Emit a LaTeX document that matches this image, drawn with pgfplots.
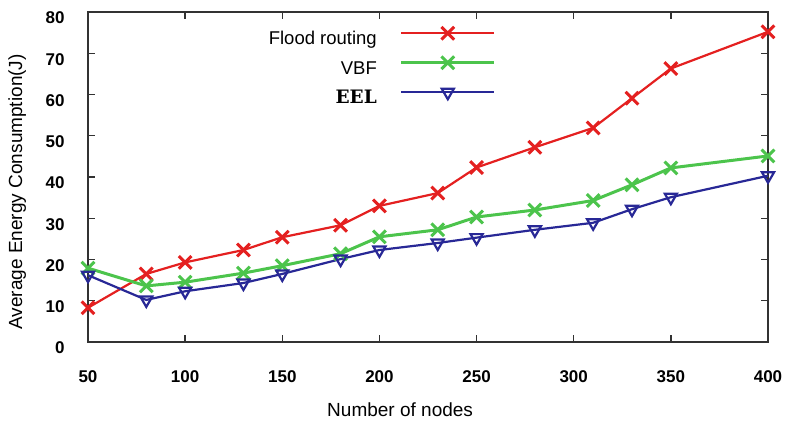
\documentclass[border=0pt]{standalone}
\usepackage{fontspec}
\setmainfont{Liberation Sans}
\newfontfamily\eelfont{DejaVu Serif}
\usepackage{pgfplots}
\pgfplotsset{compat=1.18}
\definecolor{cred}{RGB}{228,32,32}
\definecolor{cgreen}{RGB}{76,196,76}
\definecolor{cblue}{RGB}{40,40,150}
\definecolor{caxis}{RGB}{50,50,50}
\begin{document}
\begin{tikzpicture}
\useasboundingbox (-88pt,-80pt) rectangle (698pt,342pt);
\begin{axis}[
  scale only axis,
  width=680pt, height=330pt,
  xmin=50, xmax=400, ymin=0, ymax=80,
  xtick={50,100,...,400}, ytick={0,10,...,80},
  tick align=inside,
  major tick length=7pt,
  axis line style={caxis, line width=1.4pt},
  every tick/.style={caxis, line width=1.4pt},
  clip=false,
  /pgf/number format/assume math mode=true,
  tick label style={font=\fontsize{17}{20}\selectfont\bfseries},
  xticklabel style={yshift=-25pt},
  yticklabel style={xshift=-20pt, yshift=-6pt},
  xlabel={Number of nodes},
  ylabel={Average Energy Consumption(J)},
  label style={font=\fontsize{19}{22}\selectfont},
  xlabel style={at={(axis description cs:0.459,-0.206)}, anchor=center},
  ylabel style={at={(axis description cs:-0.104,0.455)}, anchor=center, rotate=0},
  legend cell align=right,
  legend plot pos=right,
  legend style={draw=none, fill=none, at={(axis description cs:0.6,0.965)}, anchor=north east,
    inner sep=0pt, row sep=10.5pt,
    nodes={inner sep=1pt, text height=13pt, text depth=4pt, font=\fontsize{18.5}{22}\selectfont},
    /tikz/every odd column/.append style={column sep=22pt}},
  legend image code/.code={
    \draw[mark repeat=2,mark phase=2,#1] plot coordinates {(0pt,0pt) (46.5pt,0pt) (93pt,0pt)};
  },
]
\addplot[cred, line width=2.2pt, mark=x, mark size=9pt, mark options={line width=3pt}] coordinates {
(50,8.3)(80,16.5)(100,19.3)(130,22.3)(150,25.4)(180,28.3)(200,33)(230,36.1)(250,42.3)(280,47.2)(310,51.9)(330,59.1)(350,66.3)(400,75.2)};
\addlegendentry{\raisebox{-7pt}{Flood routing}}
\addplot[cgreen, line width=3pt, mark=x, mark size=9pt, mark options={line width=3pt}] coordinates {
(50,17.9)(80,13.6)(100,14.5)(130,16.7)(150,18.5)(180,21.4)(200,25.5)(230,27.2)(250,30.3)(280,32)(310,34.3)(330,38.1)(350,42.2)(400,45.1)};
\addlegendentry{\raisebox{-7pt}{VBF}}
\addplot[cblue, line width=2.2pt, mark=triangle, mark size=7pt, mark options={rotate=180, line width=2.2pt, fill=white}] coordinates {
(50,16.2)(80,10.2)(100,12.3)(130,14.3)(150,16.5)(180,20.1)(200,22.3)(230,24)(250,25.3)(280,27.2)(310,28.9)(330,32.2)(350,35.1)(400,40.3)};
\addlegendentry{\raisebox{-7pt}{\eelfont\bfseries EEL}}
\end{axis}
\end{tikzpicture}
\end{document}
